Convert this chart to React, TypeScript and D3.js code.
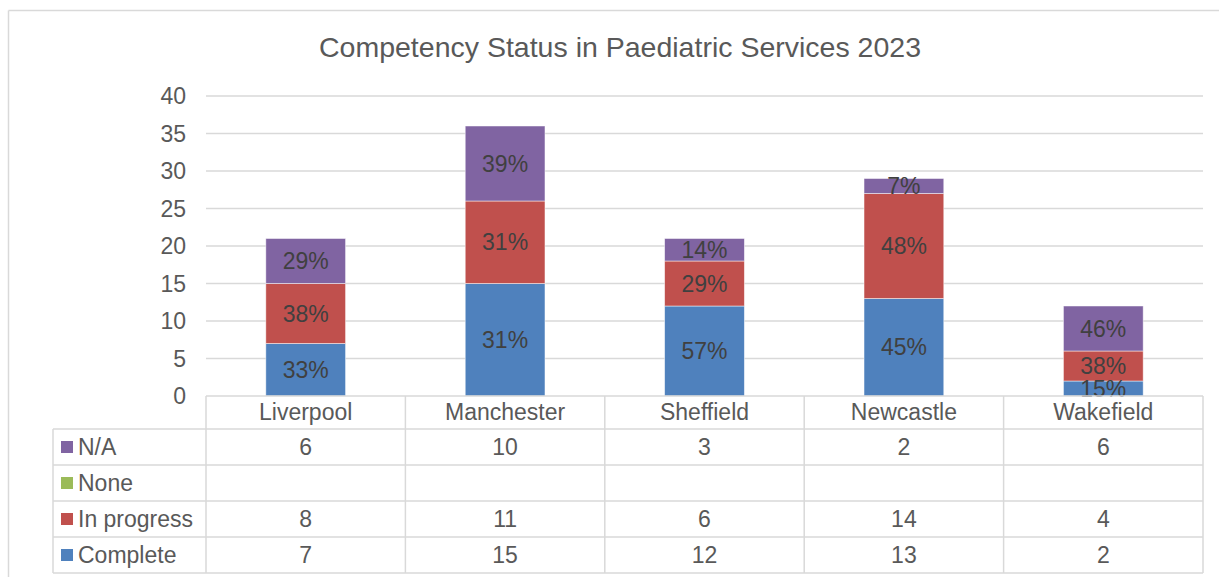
import React from "react";
import * as d3 from "d3";

const title = "Competency Status in Paediatric Services 2023";
const categories = ["Liverpool", "Manchester", "Sheffield", "Newcastle", "Wakefield"];
const seriesNames = ["Complete", "In progress", "None", "N/A"];
const complete = [7, 15, 12, 13, 2];
const inProgress = [8, 11, 6, 14, 4];
const none: (number | null)[] = [null, null, null, null, null];
const na = [6, 10, 3, 2, 6];
const completeLabels = ["33%", "31%", "57%", "45%", "15%"];
const inProgressLabels = ["38%", "31%", "29%", "48%", "38%"];
const noneLabels = ["", "", "", "", ""];
const naLabels = ["29%", "39%", "14%", "7%", "46%"];
const yTicks = [0, 5, 10, 15, 20, 25, 30, 35, 40];
const colors = ["#4F81BD", "#C0504D", "#9BBB59", "#8064A2"];

const W = 1219;
const H = 577;
const FONT = "'Liberation Sans', Arial, sans-serif";

export default function App() {
  const seriesValues = [complete, inProgress, none, na];
  const seriesLabels = [completeLabels, inProgressLabels, noneLabels, naLabels];

  const plotL = 206;
  const plotR = 1203;
  const xCat = d3.scaleBand<string>().domain(categories).range([plotL, plotR]);
  const barW = xCat.bandwidth() * 0.4;
  const barX = (c: string) => xCat(c)! + (xCat.bandwidth() - barW) / 2;
  const y = d3.scaleLinear().domain([0, 40]).range([396, 96]);

  const rows = categories.map((c, i) => {
    const r: any = { cat: c };
    seriesNames.forEach((s, j) => (r[s] = seriesValues[j][i] ?? 0));
    return r;
  });
  const stacked = d3.stack<any>().keys(seriesNames)(rows);

  const tableOrder = [3, 2, 1, 0];
  const tableTop = 429;
  const rowH = 36;
  const tableLeft = 53;
  const grid = "#D9D9D9";

  return (
    <svg width={W} height={H} style={{ position: "absolute", left: 0, top: 0 }} fontFamily={FONT}>
      <rect x={0} y={0} width={W} height={H} fill="#fff" />
      <line x1={8.5} y1={10.5} x2={W} y2={10.5} stroke={grid} strokeWidth={1.5} />
      <line x1={8.5} y1={10.5} x2={8.5} y2={H} stroke={grid} strokeWidth={1.5} />
      <text x={620} y={57} textAnchor="middle" fontSize={28.5} fill="#595959">{title}</text>

      {yTicks.map((t) => (
        <g key={t}>
          {t > 0 && <line x1={plotL} x2={plotR} y1={y(t)} y2={y(t)} stroke={grid} strokeWidth={1.5} />}
          <text x={186} y={y(t) + 8} textAnchor="end" fontSize={23} fill="#595959">{t}</text>
        </g>
      ))}

      {stacked.map((layer, j) =>
        layer.map((d, i) => {
          const v = seriesValues[j][i];
          if (v == null || v === 0) return null;
          const y0 = y(d[0]);
          const y1 = y(d[1]);
          return (
            <rect key={`${j}-${i}`} x={barX(categories[i])} y={y1} width={barW} height={y0 - y1} fill={colors[j]} stroke="#fff" strokeOpacity={0.6} strokeWidth={0.8} />
          );
        })
      )}
      {stacked.map((layer, j) =>
        layer.map((d, i) => {
          const v = seriesValues[j][i];
          if (v == null || v === 0) return null;
          const cy = (y(d[0]) + y(d[1])) / 2;
          return (
            <text key={`l${j}-${i}`} x={barX(categories[i]) + barW / 2} y={cy + 8} textAnchor="middle" fontSize={23} fill="#404040">
              {seriesLabels[j][i]}
            </text>
          );
        })
      )}

      <line x1={plotL} x2={plotR} y1={396} y2={396} stroke={grid} strokeWidth={1.5} />
      {categories.map((c) => (
        <text key={c} x={xCat(c)! + xCat.bandwidth() / 2} y={420} textAnchor="middle" fontSize={23} fill="#595959">{c}</text>
      ))}
      {[0, 1, 2, 3, 4].map((k) => (
        <line key={k} x1={tableLeft} x2={plotR} y1={tableTop + k * rowH} y2={tableTop + k * rowH} stroke={grid} strokeWidth={1.5} />
      ))}
      <line x1={tableLeft} x2={tableLeft} y1={tableTop} y2={tableTop + 4 * rowH} stroke={grid} strokeWidth={1.5} />
      {categories.map((c) => (
        <line key={c} x1={xCat(c)!} x2={xCat(c)!} y1={396} y2={tableTop + 4 * rowH} stroke={grid} strokeWidth={1.5} />
      ))}
      <line x1={plotR} x2={plotR} y1={396} y2={tableTop + 4 * rowH} stroke={grid} strokeWidth={1.5} />
      {tableOrder.map((j, r) => {
        const ry = tableTop + r * rowH;
        return (
          <g key={j}>
            <rect x={61} y={ry + 12} width={12} height={12} fill={colors[j]} />
            <text x={78} y={ry + 26} fontSize={23} fill="#595959">{seriesNames[j]}</text>
            {categories.map((c, i) => {
              const v = seriesValues[j][i];
              return v == null ? null : (
                <text key={c} x={xCat(c)! + xCat.bandwidth() / 2} y={ry + 26} textAnchor="middle" fontSize={23} fill="#595959">{v}</text>
              );
            })}
          </g>
        );
      })}
    </svg>
  );
}
